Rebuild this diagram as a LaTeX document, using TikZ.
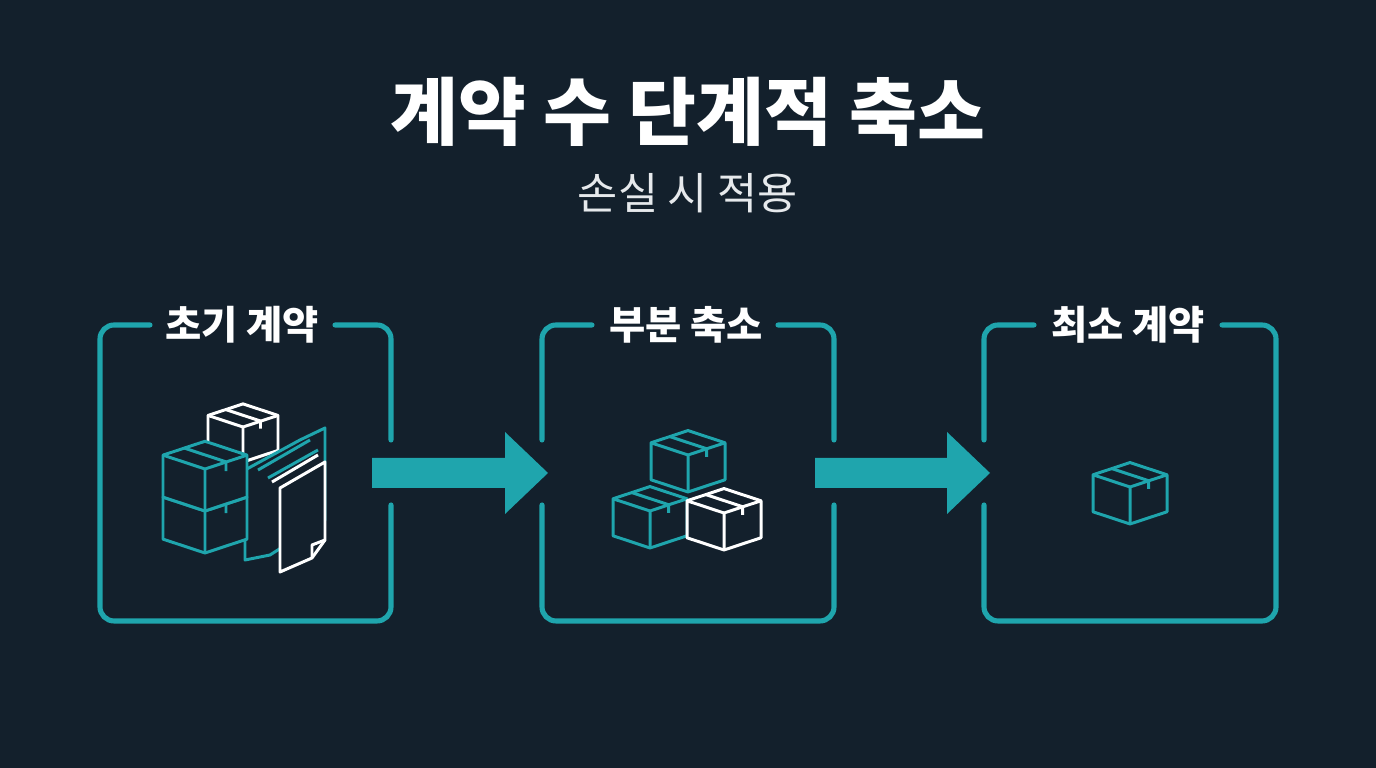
\documentclass[tikz,border=0pt]{standalone}
\usepackage{fontspec}
\newfontfamily\kr{Noto Sans CJK KR}
\usetikzlibrary{positioning}
\definecolor{bgnavy}{HTML}{13202C}
\definecolor{teal}{HTML}{1FA5AD}
\definecolor{subgray}{HTML}{E6E9EC}
% isometric box: bottom vertex x, y, half width, colour
\newcommand\isobox[4]{%
  \begin{scope}[shift={(#1,#2)}, line width=0.85pt, draw=#4, line join=round]
    \filldraw[fill=bgnavy] (0,0) -- (#3,-0.33*#3) -- (#3,-1.33*#3) -- (0,-1.66*#3)
      -- (-#3,-1.33*#3) -- (-#3,-0.33*#3) -- cycle;
    \draw (0,0) -- (0,-#3) -- (#3,-1.33*#3) (0,-#3) -- (-#3,-1.33*#3);
    \draw (0.5*#3,-1.17*#3) -- (-0.5*#3,-1.5*#3) (0.5*#3,-1.17*#3) -- ++(0,0.22*#3);
  \end{scope}}
\begin{document}
\begin{tikzpicture}[x=0.01cm, y=-0.01cm,
    frame/.style={draw=teal, line width=1.45pt, line cap=round, rounded corners=4pt},
    stage/.style={font=\kr\bfseries\fontsize{11.2}{13}\selectfont, text=white},
    arrow/.style={fill=teal, draw=none}
]
    \fill[bgnavy] (0,0) rectangle (1376,768);
    \useasboundingbox (0,0) rectangle (1376,768);

    % Titles
    \node[font=\kr\bfseries\fontsize{21}{25}\selectfont, text=white] (title) at (688,112) {계약 수 단계적 축소};
    \node[font=\kr\fontsize{12.4}{15}\selectfont, text=subgray] (sub) at (688,193) {손실 시 적용};

    % Frames
    \draw[frame] (150,325) -- (100,325) -- (100,621) -- (391,621) -- (391,505);
    \draw[frame] (391,440) -- (391,325) -- (335,325);
    \draw[frame] (592,325) -- (542,325) -- (542,440);
    \draw[frame] (542,505) -- (542,621) -- (834,621) -- (834,505);
    \draw[frame] (834,440) -- (834,325) -- (778,325);
    \draw[frame] (1034,325) -- (984,325) -- (984,440);
    \draw[frame] (984,505) -- (984,621) -- (1276,621) -- (1276,325) -- (1222,325);

    \node[stage] (s1) at (242,325) {초기 계약};
    \node[stage] (s2) at (686,325) {부분 축소};
    \node[stage] (s3) at (1128,325) {최소 계약};

    % Arrows
    \fill[arrow] (372,458) -- (505,458) -- (505,432) -- (548,473) -- (505,514) -- (505,488) -- (372,488) -- cycle;
    \fill[arrow] (815,458) -- (947,458) -- (947,432) -- (990,473) -- (947,514) -- (947,488) -- (815,488) -- cycle;

    % Icons stage 1
    \isobox{243}{462}{35}{white}
    \begin{scope}[line width=0.85pt, line join=round]
      \filldraw[draw=teal, fill=bgnavy] (245,560) -- (245,470) -- (300,440) -- (325,428) -- (325,520) -- (270,555) -- cycle;
      \draw[teal] (258,470) -- (310,440) (268,478) -- (318,450);
      \filldraw[draw=white, fill=bgnavy] (280,572) -- (280,488) -- (325,462) -- (325,540) -- (312,558) -- cycle;
      \draw[white] (312,558) -- (312,545) -- (325,540);
      \draw[white] (272,482) -- (318,455);
    \end{scope}
    \isobox{205}{553}{42}{teal}
    \isobox{205}{511}{42}{teal}

    % Icons stage 2
    \isobox{688}{492}{37}{teal}
    \isobox{650}{548}{37}{teal}
    \isobox{724}{550}{37}{white}

    % Icon stage 3
    \isobox{1130}{524}{37}{teal}
\end{tikzpicture}
\end{document}
